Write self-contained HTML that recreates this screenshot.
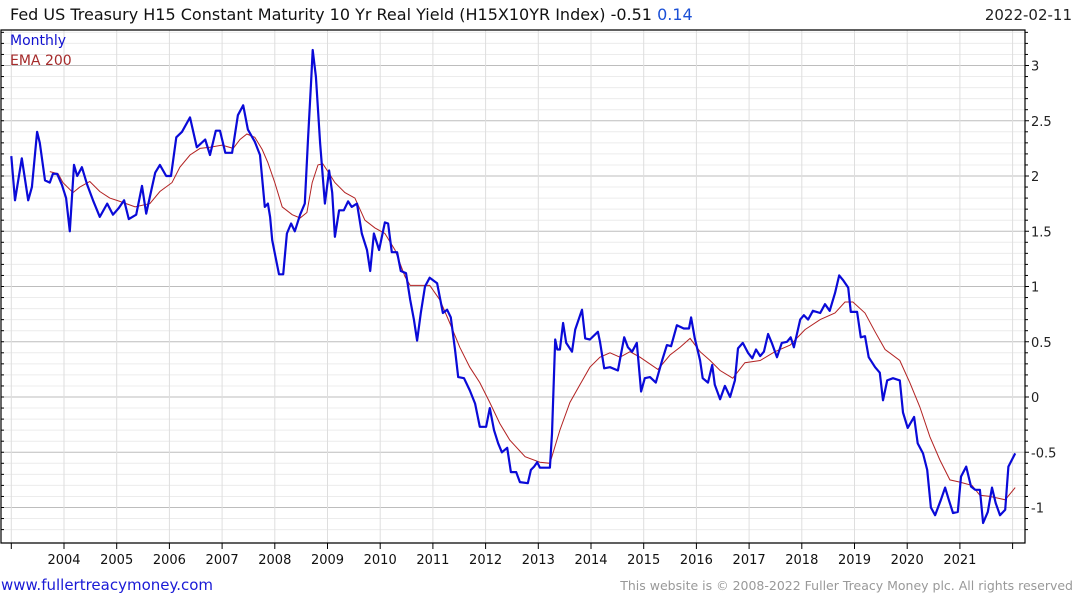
<!DOCTYPE html>
<html><head><meta charset="utf-8"><style>
html,body{margin:0;padding:0;background:#fff;width:1075px;height:600px;overflow:hidden;font-family:"Liberation Sans","DejaVu Sans",sans-serif}
svg{display:block}
</style></head><body>
<svg id="chart" width="1075" height="600" xmlns="http://www.w3.org/2000/svg">
<text x="10" y="20" font-size="16" fill="#111" font-family="DejaVu Sans, sans-serif">Fed US Treasury H15 Constant Maturity 10 Yr Real Yield (H15X10YR Index) -0.51 <tspan fill="#1a4fd6">0.14</tspan></text>
<text x="1072" y="20" font-size="15" fill="#222" text-anchor="end" font-family="DejaVu Sans, sans-serif">2022-02-11</text>
<g id="grid"></g><g id="series"></g><g id="axes"></g>
<text x="10" y="45" font-size="14" fill="#1010d0" font-family="DejaVu Sans, sans-serif">Monthly</text>
<text x="10" y="65" font-size="14" fill="#a52a2a" font-family="DejaVu Sans, sans-serif">EMA 200</text>
<text x="1" y="590" font-size="15" fill="#1a1ad6" font-family="DejaVu Sans, sans-serif">www.fullertreacymoney.com</text>
<text x="1073" y="590" font-size="12.5" fill="#999" text-anchor="end" font-family="DejaVu Sans, sans-serif">This website is © 2008-2022 Fuller Treacy Money plc. All rights reserved</text>
</svg>
<script>
const yearTicks=[2004,2005,2006,2007,2008,2009,2010,2011,2012,2013,2014,2015,2016,2017,2018,2019,2020,2021];
const yTickLabels=[3,2.5,2,1.5,1,0.5,0,-0.5,-1];
const monthlyDates=[2003.00,2003.07,2003.20,2003.32,2003.39,2003.49,2003.54,2003.64,2003.73,2003.79,2003.87,2003.96,2004.04,2004.11,2004.19,2004.25,2004.34,2004.44,2004.55,2004.68,2004.82,2004.93,2005.04,2005.14,2005.23,2005.37,2005.48,2005.56,2005.67,2005.73,2005.82,2005.94,2006.03,2006.13,2006.24,2006.39,2006.52,2006.68,2006.77,2006.88,2006.96,2007.06,2007.19,2007.30,2007.40,2007.49,2007.62,2007.72,2007.81,2007.87,2007.91,2007.95,2008.00,2008.08,2008.16,2008.23,2008.31,2008.38,2008.48,2008.57,2008.63,2008.69,2008.72,2008.78,2008.86,2008.95,2009.03,2009.09,2009.14,2009.22,2009.31,2009.39,2009.46,2009.56,2009.65,2009.75,2009.81,2009.88,2009.98,2010.09,2010.15,2010.22,2010.32,2010.39,2010.49,2010.57,2010.64,2010.70,2010.77,2010.85,2010.94,2011.08,2011.19,2011.27,2011.34,2011.42,2011.48,2011.59,2011.70,2011.80,2011.89,2012.01,2012.08,2012.16,2012.24,2012.31,2012.41,2012.48,2012.58,2012.65,2012.80,2012.86,2012.92,2012.98,2013.03,2013.22,2013.26,2013.32,2013.36,2013.41,2013.47,2013.53,2013.64,2013.70,2013.83,2013.89,2013.98,2014.13,2014.17,2014.25,2014.36,2014.51,2014.63,2014.70,2014.78,2014.87,2014.95,2015.02,2015.12,2015.23,2015.35,2015.44,2015.52,2015.63,2015.76,2015.86,2015.90,2015.97,2016.07,2016.12,2016.22,2016.30,2016.35,2016.45,2016.54,2016.64,2016.73,2016.79,2016.88,2016.98,2017.06,2017.13,2017.21,2017.28,2017.36,2017.43,2017.53,2017.62,2017.72,2017.79,2017.85,2017.97,2018.04,2018.12,2018.21,2018.35,2018.44,2018.53,2018.63,2018.71,2018.78,2018.88,2018.93,2019.05,2019.12,2019.20,2019.27,2019.39,2019.48,2019.54,2019.62,2019.73,2019.86,2019.92,2020.01,2020.13,2020.20,2020.30,2020.38,2020.45,2020.53,2020.64,2020.72,2020.79,2020.87,2020.96,2021.02,2021.12,2021.21,2021.29,2021.38,2021.44,2021.53,2021.61,2021.68,2021.76,2021.86,2021.92,2022.05];
const monthlyValues=[2.18,1.78,2.16,1.78,1.9,2.40,2.3,1.96,1.94,2.02,2.02,1.92,1.8,1.5,2.1,2.0,2.08,1.92,1.78,1.63,1.75,1.65,1.71,1.78,1.61,1.65,1.91,1.66,1.9,2.03,2.1,2.0,2.0,2.35,2.40,2.53,2.26,2.33,2.19,2.41,2.41,2.21,2.21,2.55,2.64,2.42,2.31,2.19,1.72,1.75,1.63,1.42,1.30,1.11,1.11,1.48,1.57,1.5,1.65,1.75,2.33,2.87,3.14,2.9,2.3,1.75,2.05,1.85,1.45,1.69,1.69,1.77,1.72,1.75,1.48,1.33,1.14,1.48,1.33,1.58,1.57,1.31,1.31,1.14,1.12,0.88,0.70,0.51,0.76,1.0,1.08,1.03,0.76,0.79,0.72,0.43,0.18,0.17,0.06,-0.06,-0.27,-0.27,-0.10,-0.30,-0.42,-0.5,-0.46,-0.68,-0.68,-0.77,-0.78,-0.66,-0.63,-0.59,-0.64,-0.64,-0.33,0.52,0.43,0.43,0.67,0.49,0.41,0.61,0.79,0.53,0.52,0.59,0.5,0.26,0.27,0.24,0.54,0.45,0.41,0.49,0.05,0.17,0.18,0.13,0.33,0.47,0.46,0.65,0.62,0.62,0.72,0.53,0.33,0.17,0.13,0.29,0.11,-0.02,0.10,0,0.15,0.44,0.49,0.4,0.35,0.43,0.37,0.41,0.57,0.49,0.36,0.49,0.5,0.54,0.45,0.7,0.74,0.7,0.78,0.76,0.84,0.78,0.94,1.1,1.06,0.99,0.77,0.77,0.54,0.55,0.36,0.27,0.22,-0.03,0.15,0.17,0.15,-0.14,-0.28,-0.18,-0.42,-0.51,-0.66,-1.0,-1.07,-0.93,-0.82,-0.93,-1.05,-1.04,-0.72,-0.63,-0.81,-0.84,-0.84,-1.14,-1.04,-0.82,-0.96,-1.07,-1.02,-0.63,-0.51];
const emaDates=[2003.73,2003.89,2003.98,2004.17,2004.30,2004.49,2004.68,2004.87,2005.06,2005.35,2005.63,2005.82,2006.05,2006.20,2006.39,2006.58,2006.77,2007.00,2007.21,2007.34,2007.47,2007.62,2007.76,2007.87,2008.00,2008.14,2008.33,2008.48,2008.61,2008.71,2008.82,2008.91,2009.01,2009.14,2009.33,2009.52,2009.71,2009.90,2010.09,2010.28,2010.47,2010.57,2010.76,2010.94,2011.13,2011.32,2011.51,2011.70,2011.89,2012.08,2012.27,2012.46,2012.75,2013.03,2013.22,2013.41,2013.60,2013.79,2013.98,2014.17,2014.36,2014.55,2014.74,2014.93,2015.27,2015.50,2015.69,2015.88,2016.07,2016.26,2016.45,2016.69,2016.92,2017.21,2017.49,2017.78,2018.06,2018.35,2018.63,2018.82,2018.97,2019.20,2019.39,2019.58,2019.86,2020.05,2020.24,2020.43,2020.62,2020.81,2021.00,2021.23,2021.38,2021.57,2021.86,2022.05];
const emaValues=[2.04,2.02,1.94,1.85,1.9,1.95,1.86,1.8,1.77,1.72,1.75,1.86,1.94,2.08,2.19,2.25,2.26,2.28,2.25,2.33,2.38,2.35,2.24,2.12,1.94,1.72,1.65,1.62,1.67,1.94,2.1,2.11,2.04,1.94,1.85,1.8,1.6,1.53,1.48,1.33,1.09,1.01,1.01,1.01,0.88,0.67,0.45,0.27,0.13,-0.05,-0.24,-0.39,-0.54,-0.59,-0.6,-0.3,-0.05,0.11,0.27,0.36,0.4,0.36,0.41,0.36,0.25,0.38,0.45,0.53,0.41,0.33,0.24,0.17,0.31,0.33,0.41,0.47,0.61,0.7,0.76,0.86,0.86,0.76,0.59,0.43,0.33,0.13,-0.09,-0.36,-0.57,-0.75,-0.77,-0.8,-0.89,-0.9,-0.93,-0.82];

const NS='http://www.w3.org/2000/svg';
const L=1,R=1025,T=30,B=543;
const X=t=>11.3+(t-2003)*52.7;
const Y=v=>397-v*110.5;
function mk(tag,attrs,parent){const e=document.createElementNS(NS,tag);for(const k in attrs)e.setAttribute(k,attrs[k]);parent.appendChild(e);return e;}
const grid=document.getElementById('grid'),axes=document.getElementById('axes'),series=document.getElementById('series');
// horizontal minor/major grid
for(let i=-12;i<=33;i++){const v=i/10;const y=Y(v);if(y<T||y>B)continue;const major=(i%5===0);
 const g=mk('line',{x1:L,x2:R,y1:y,y2:y,stroke:major?'#bdbdbd':'#ececec','stroke-width':1},grid);
 
 
 const tk=mk('line',{x1:R,x2:R+(major?4:3),y1:y,y2:y,stroke:'#000','stroke-width':1},axes);
 
 
 const lt=mk('line',{x1:L,x2:L+3,y1:y,y2:y,stroke:'#000','stroke-width':1},axes);
 
 
}
yTickLabels.forEach(v=>{const t=mk('text',{x:R+6,y:Y(v)+5,'font-size':13,fill:'#222','font-family':'DejaVu Sans, sans-serif'},axes);t.textContent=(v<0?'-':'')+Math.abs(v);
 
 });
// vertical grid
[2003].concat(yearTicks).concat([2022]).forEach(yr=>{const x=X(yr);
 const g=mk('line',{x1:x,x2:x,y1:T,y2:B,stroke:'#dedede','stroke-width':1},grid);
 
 
 const tk=mk('line',{x1:x,x2:x,y1:B,y2:B+6,stroke:'#000','stroke-width':1},axes);
 
 });
yearTicks.forEach(yr=>{const t=mk('text',{x:X(yr),y:B+21,'font-size':13,fill:'#111','text-anchor':'middle','font-family':'DejaVu Sans, sans-serif'},axes);t.textContent=yr;
 
 });
// frame
const fr=mk('path',{d:`M${L} ${T}H${R}V${B}H${L}Z`,fill:'none',stroke:'#000','stroke-width':1.2},axes);


// series
const ema=mk('polyline',{points:emaDates.map((d,i)=>X(d).toFixed(1)+','+Y(emaValues[i]).toFixed(1)).join(' '),fill:'none',stroke:'#b22222','stroke-width':1},series);


const mon=mk('polyline',{points:monthlyDates.map((d,i)=>X(d).toFixed(1)+','+Y(monthlyValues[i]).toFixed(1)).join(' '),fill:'none',stroke:'#0a0ad8','stroke-width':2.2,'stroke-linejoin':'round'},series);


</script>
</body></html>
